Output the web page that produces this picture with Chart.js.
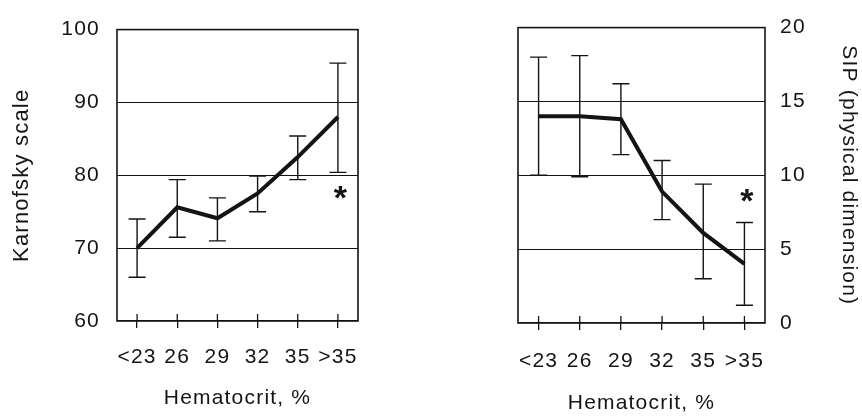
<!DOCTYPE html>
<html>
<head>
<meta charset="utf-8">
<script src="https://cdn.jsdelivr.net/npm/chart.js@4.4.1/dist/chart.umd.min.js"></script>
<style>
  body { margin: 0; background: #fff; }
  #wrap { position: relative; width: 862px; height: 420px; }
  canvas { position: absolute; top: 0; }
</style>
</head>
<body>
<div id="wrap">
  <canvas id="karnofskyChart" width="431" height="420" style="left:0"></canvas>
  <canvas id="sipChart" width="431" height="420" style="left:431px"></canvas>
</div>
<script>
// Hematocrit groups
const categories = ['<23', '26', '29', '32', '35', '>35'];

// Karnofsky scale (left panel)
const karnofskyMean = [70, 75.6, 74.1, 77.5, 82.5, 88.0];
const karnofskyLow  = [66, 71.5, 71.0, 75.0, 79.4, 80.4];
const karnofskyHigh = [74, 79.4, 76.9, 79.9, 85.4, 95.4];
const karnofskyTicks = [60, 70, 80, 90, 100];

// SIP physical dimension (right panel)
const sipMean = [14.0, 14.0, 13.8, 8.9, 6.1, 4.0];
const sipLow  = [10.0, 9.9, 11.4, 7.0, 3.0, 1.2];
const sipHigh = [18.0, 18.1, 16.2, 11.0, 9.4, 6.8];
const sipTicks = [0, 5, 10, 15, 20];

const ink = '#141414';
Chart.defaults.font.family = '"Liberation Sans", Arial, sans-serif';
Chart.defaults.font.size = 21;
Chart.defaults.color = ink;

// espacio entre letras, el texto original es mas ancho
const letterSpacing = {
    id: 'letterSpacing',
    beforeUpdate(chart) { chart.ctx.letterSpacing = '1.2px'; },
    beforeDraw(chart) { chart.ctx.letterSpacing = '1.2px'; }
};

// barras de error + caja + marcas + asterisco
function makeDecor(low, high, starIndex, starValue, starShift) {
    return {
        id: 'decor',
        beforeDatasetsDraw(chart) {
            const ctx = chart.ctx;
            const x = chart.scales.x;
            const y = chart.scales.y;
            ctx.save();
            ctx.strokeStyle = ink;
            ctx.lineWidth = 1.4;
            low.forEach((lo, i) => {
                const px = x.getPixelForValue(i);
                const yLo = y.getPixelForValue(lo);
                const yHi = y.getPixelForValue(high[i]);
                ctx.beginPath();
                ctx.moveTo(px, yLo); ctx.lineTo(px, yHi);
                ctx.moveTo(px - 8.5, yLo); ctx.lineTo(px + 8.5, yLo);
                ctx.moveTo(px - 8.5, yHi); ctx.lineTo(px + 8.5, yHi);
                ctx.stroke();
            });
            ctx.restore();
        },
        afterDraw(chart) {
            const ctx = chart.ctx;
            const area = chart.chartArea;
            const x = chart.scales.x;
            const y = chart.scales.y;
            ctx.save();
            ctx.strokeStyle = ink;
            ctx.lineWidth = 1.6;
            ctx.strokeRect(area.left, area.top, area.right - area.left, area.bottom - area.top);
            // parte interior de las marcas del eje x
            ctx.lineWidth = 1.3;
            categories.forEach((c, i) => {
                const px = x.getPixelForValue(i);
                ctx.beginPath();
                ctx.moveTo(px, area.bottom - 7);
                ctx.lineTo(px, area.bottom);
                ctx.stroke();
            });
            ctx.fillStyle = ink;
            ctx.font = 'bold 34px "Liberation Sans", Arial, sans-serif';
            ctx.textAlign = 'center';
            ctx.textBaseline = 'alphabetic';
            ctx.fillText('*', x.getPixelForValue(starIndex) + starShift, y.getPixelForValue(starValue) + 10);
            ctx.restore();
        }
    };
}

function makeChart(canvasId, mean, low, high, ticks, title, side, pad, sizes, star) {
    const ctx = document.getElementById(canvasId).getContext('2d');
    return new Chart(ctx, {
        type: 'line',
        data: {
            labels: categories,
            datasets: [{
                data: mean,
                borderColor: ink,
                borderWidth: 4,
                pointRadius: 0,
                tension: 0,
                fill: false
            }]
        },
        options: {
            responsive: false,
            animation: false,
            layout: { padding: pad },
            plugins: {
                legend: { display: false },
                tooltip: { enabled: false }
            },
            scales: {
                x: {
                    offset: true,
                    grid: { drawOnChartArea: false, drawTicks: true, tickLength: 7, color: ink, lineWidth: 1.3 },
                    border: { display: false },
                    ticks: { padding: sizes.xPad, maxRotation: 0, autoSkip: false },
                    title: { display: true, text: 'Hematocrit, %', padding: { top: 0, bottom: sizes.titleBottom } },
                    afterFit(scale) { scale.height = sizes.xHeight; }
                },
                y: {
                    position: side,
                    min: ticks[0],
                    max: ticks[ticks.length - 1],
                    grid: { color: ink, lineWidth: 1.1, drawTicks: false },
                    border: { display: false },
                    ticks: {
                        padding: sizes.yPad,
                        stepSize: ticks[1] - ticks[0]
                    },
                    title: {
                        display: true,
                        text: title,
                        font: { size: sizes.yTitleSize },
                        padding: { top: sizes.yTitlePad, bottom: 0 }
                    },
                    afterFit(scale) { scale.width = sizes.yWidth; }
                }
            }
        },
        plugins: [letterSpacing, makeDecor(low, high, star.index, star.value, star.shift)]
    });
}

makeChart('karnofskyChart', karnofskyMean, karnofskyLow, karnofskyHigh, karnofskyTicks,
    'Karnofsky scale', 'left',
    { top: 17, right: 73, bottom: 0, left: 0 },
    { xHeight: 99, yWidth: 117, xPad: 17, yPad: 17, titleBottom: 9, yTitleSize: 22, yTitlePad: 9 },
    { index: 5, value: 76.8, shift: 3 });

makeChart('sipChart', sipMean, sipLow, sipHigh, sipTicks,
    'SIP (physical dimension)', 'right',
    { top: 19, right: 0, bottom: 0, left: 87 },
    { xHeight: 97, yWidth: 97, xPad: 19, yPad: 15, titleBottom: 4, yTitleSize: 21, yTitlePad: 1 },
    { index: 5, value: 8.2, shift: 3 });
</script>
</body>
</html>
